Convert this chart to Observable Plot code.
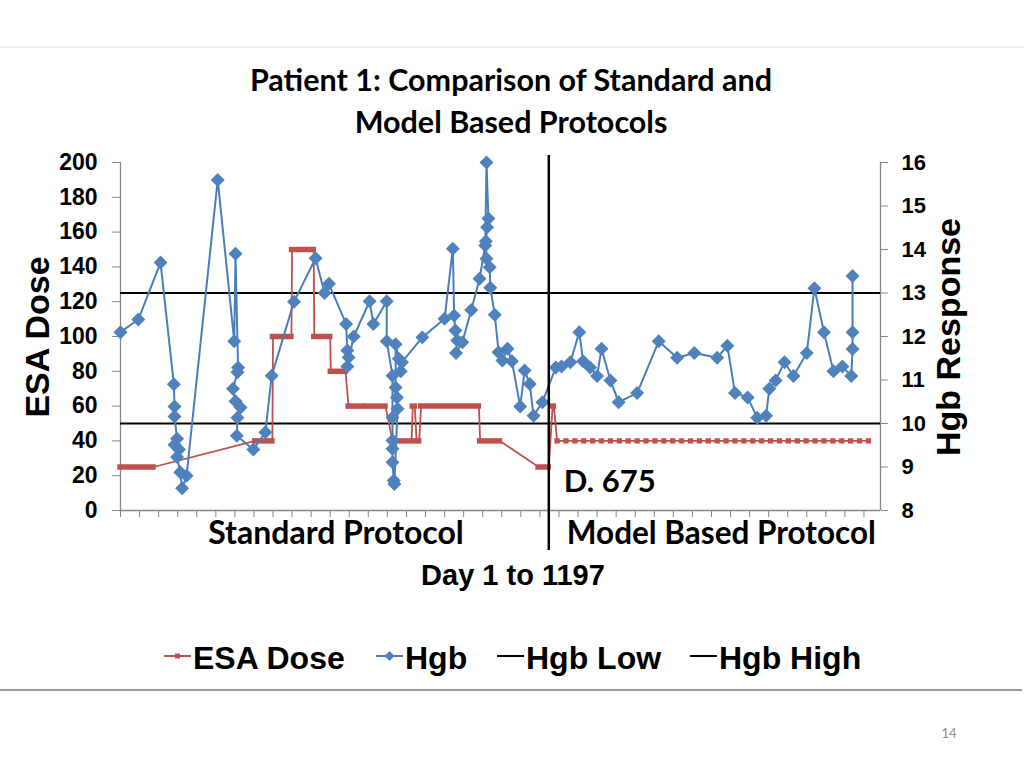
<!DOCTYPE html>
<html><head><meta charset="utf-8">
<script src="https://cdn.jsdelivr.net/npm/d3@7"></script>
<script src="https://cdn.jsdelivr.net/npm/@observablehq/plot@0.6"></script>
<style>
body{margin:0;background:#fff;}
#page{position:relative;width:1024px;height:768px;overflow:hidden;background:#fff;}
#overlay{position:absolute;left:0;top:0;}
#chart{position:absolute;left:0;top:140px;}
</style></head><body>
<div id="page"><svg id="overlay" width="1024" height="768"></svg><div id="chart"></div></div>
<script>
// ---- data ----
const hgbDay = [1,29,64,85,86,86,90,86,93,90,95,98,105,154,180,182,186,185,178,182,190,185,184,210,229,239,274,308,322,329,356,358,360,358,368,393,399,420,420,429,429,429,429,429,431,432,437,436,434,434,439,442,444,476,511,524,526,528,531,529,539,553,566,575,577,580,578,576,577,582,583,590,596,602,610,617,630,637,645,651,665,686,695,709,723,729,740,751,758,772,785,814,848,877,904,940,956,968,988,1003,1017,1022,1032,1046,1060,1081,1093,1108,1123,1137,1151,1153,1153,1153];
const hgbValue = [12.10,12.39,13.70,10.90,10.39,10.16,9.65,9.51,9.40,9.23,8.88,8.51,8.80,15.60,11.89,13.90,11.29,11.18,10.80,10.51,10.37,10.13,9.72,9.40,9.80,11.10,12.80,13.80,13.00,13.21,12.29,11.68,11.52,11.31,12.00,12.81,12.29,12.81,11.89,11.10,10.14,9.61,9.42,9.11,8.69,8.61,10.34,10.60,10.83,11.82,11.49,11.20,11.41,11.98,12.41,14.02,12.48,12.14,11.91,11.62,11.87,12.61,13.33,14.09,16.00,14.71,14.51,14.19,13.79,13.59,13.12,12.50,11.64,11.45,11.72,11.43,10.39,11.22,10.91,10.18,10.49,11.29,11.31,11.41,12.10,11.43,11.29,11.09,11.72,10.99,10.49,10.70,11.89,11.51,11.62,11.51,11.79,10.70,10.60,10.13,10.18,10.80,10.99,11.41,11.09,11.62,13.11,12.10,11.20,11.31,11.09,11.71,12.10,13.39];

// ESA dose runs in the standard protocol (dense daily dosing)
const esaRunStart = [1,213,241,271,306,332,360,389,429,461,467,474,567,659,681];
const esaRunEnd   = [53,240,270,305,331,355,383,418,459,464,471,565,598,675,683];
const esaRunDose  = [25,40,100,150,100,80,60,60,40,60,40,60,40,25,60];
// ESA doses in the model based protocol
const modelDoseDay = [688,702,716,730,744,758,772,786,800,814,828,842,856,870,884,898,912,926,940,954,968,982,996,1010,1024,1038,1052,1066,1080,1094,1108,1122,1136,1150,1164,1178];
const modelDoseValue = 40;

const hgbLow = 10, hgbHigh = 13;
const switchDay = 675;
const esaTicks = [0,20,40,60,80,100,120,140,160,180,200];
const hgbTicks = [8,9,10,11,12,13,14,15,16];
const dayDomain = [1,1197];

// ---- build ----
const toEsa = h => (h - 8) * 25;           // Hgb 8..16 on the ESA 0..200 scale
const hgb = hgbDay.map((d,i)=>({day:d, hgb:hgbValue[i]}));
const runs = esaRunStart.map((s,i)=>({start:s, end:esaRunEnd[i], dose:esaRunDose[i]}));
const model = modelDoseDay.map(d=>({day:d, dose:modelDoseValue}));
const esaPath = runs.flatMap(r=>[{day:r.start,dose:r.dose},{day:r.end,dose:r.dose}]).concat(model);

const diamond = {draw(ctx,size){const r=Math.sqrt(size)*0.62625;ctx.moveTo(0,-r);ctx.lineTo(r,0);ctx.lineTo(0,r);ctx.lineTo(-r,0);ctx.closePath();}};
const RED="#C0504D", BLUE="#4A7EBB", BLUEM="#4F81BD", AXIS="#868686";
const CAL = "Lato, 'Open Sans', sans-serif";
const ARIAL = "'Liberation Sans', Arial, sans-serif";

const chart = Plot.plot({
  width:1024, height:420, marginTop:22, marginBottom:50, marginLeft:120, marginRight:144,
  x:{domain:dayDomain}, y:{domain:[0,200]},
  style:{fontFamily:ARIAL, fontWeight:"bold", color:"black", background:"transparent", overflow:"visible"},
  marks:[
    Plot.ruleY([0], {stroke:AXIS, strokeWidth:1.3}),
    Plot.ruleX(dayDomain, {stroke:AXIS, strokeWidth:1.3}),
    Plot.axisY(esaTicks, {anchor:"left", tickSize:8, tickPadding:15, stroke:AXIS, fill:"black", fontSize:23, fontWeight:"bold", label:null}),
    Plot.axisY(hgbTicks.map(toEsa), {anchor:"right", tickSize:7, tickPadding:14, tickFormat:d=>d/25+8, stroke:AXIS, fill:"black", fontSize:22, fontWeight:"bold", label:null}),
    Plot.axisX(d3.range(dayDomain[0], dayDomain[1], 30), {anchor:"bottom", tickSize:7, stroke:AXIS, tickFormat:()=>"", label:null}),
    Plot.ruleY([hgbLow, hgbHigh], {y:toEsa, stroke:"black", strokeWidth:2.2}),
    Plot.line(esaPath, {x:"day", y:"dose", stroke:RED, strokeWidth:1.8}),
    Plot.ruleY(runs, {x1:"start", x2:"end", y:"dose", stroke:RED, strokeWidth:5.5, strokeLinecap:"square"}),
    Plot.dot(model, {x:"day", y:"dose", symbol:"square", r:3, fill:RED, stroke:null}),
    Plot.line(hgb, {x:"day", y:d=>toEsa(d.hgb), stroke:BLUE, strokeWidth:2}),
    Plot.dot(hgb, {x:"day", y:d=>toEsa(d.hgb), symbol:diamond, r:6.3, fill:BLUEM, stroke:null}),
    Plot.ruleX([switchDay], {stroke:"black", strokeWidth:2.5, insetTop:-7, insetBottom:-40}),
    Plot.text([{day:switchDay, t:"D. 675"}], {x:"day", text:"t", frameAnchor:"bottom", lineAnchor:"bottom", textAnchor:"start", dx:15, dy:-19, fontFamily:CAL, fontWeight:"bold", fontSize:31, fill:"black"}),
    Plot.text([{day:switchDay, t:"Standard Protocol"}], {x:"day", text:"t", frameAnchor:"bottom", lineAnchor:"bottom", textAnchor:"end", dx:-85, dy:33, fontFamily:CAL, fontWeight:"bold", fontSize:32, fill:"black"}),
    Plot.text([{day:switchDay, t:"Model Based Protocol"}], {x:"day", text:"t", frameAnchor:"bottom", lineAnchor:"bottom", textAnchor:"start", dx:18, dy:33, fontFamily:CAL, fontWeight:"bold", fontSize:31.5, fill:"black"})
  ]
});
document.getElementById("chart").appendChild(chart);

// ---- overlay: titles, axis titles, legend, slide frame ----
const ov = d3.select("#overlay");
ov.append("line").attr("x1",0).attr("x2",1024).attr("y1",47).attr("y2",47).attr("stroke","#dcdcdc").attr("stroke-width",1);
ov.append("line").attr("x1",0).attr("x2",1022).attr("y1",690).attr("y2",690).attr("stroke","#9a9a9a").attr("stroke-width",2);
const title = ["Patient 1: Comparison of Standard and","Model Based Protocols"];
title.forEach((t,i)=>ov.append("text").attr("x",511).attr("y",91+i*42).attr("text-anchor","middle")
  .style("font-family",CAL).style("font-weight","bold").style("font-size","30.5px").text(t));
ov.append("text").attr("transform","translate(49,337) rotate(-90)").attr("text-anchor","middle")
  .style("font-family",ARIAL).style("font-weight","bold").style("font-size","34px").text("ESA Dose");
ov.append("text").attr("transform","translate(960,337) rotate(-90)").attr("text-anchor","middle")
  .style("font-family",ARIAL).style("font-weight","bold").style("font-size","34px").text("Hgb Response");
ov.append("text").attr("x",513).attr("y",585).attr("text-anchor","middle")
  .style("font-family",ARIAL).style("font-weight","bold").style("font-size","29px").text("Day 1 to 1197");
// legend
const legendItems = [
  {label:"ESA Dose", color:RED, marker:"square", x0:164, tx:193},
  {label:"Hgb", color:BLUE, marker:"diamond", x0:376, tx:405},
  {label:"Hgb Low", color:"black", marker:null, x0:497, tx:526},
  {label:"Hgb High", color:"black", marker:null, x0:690, tx:719}
];
const ly = 656;
legendItems.forEach(it=>{
  ov.append("line").attr("x1",it.x0).attr("x2",it.x0+27).attr("y1",ly).attr("y2",ly).attr("stroke",it.color).attr("stroke-width",2);
  if(it.marker==="square") ov.append("rect").attr("x",it.x0+11).attr("y",ly-2.5).attr("width",5).attr("height",5).attr("fill",RED);
  if(it.marker==="diamond") ov.append("path").attr("transform",`translate(${it.x0+13.5},${ly})`).attr("d","M0,-5L5,0L0,5L-5,0Z").attr("fill",BLUEM);
  ov.append("text").attr("x",it.tx).attr("y",669).style("font-family",ARIAL).style("font-weight","bold").style("font-size","32px").text(it.label);
});
ov.append("text").attr("x",949).attr("y",738).attr("text-anchor","middle").style("font-family",CAL).style("font-size","13px").attr("fill","#8c8c8c").text("14");
</script>
</body></html>
